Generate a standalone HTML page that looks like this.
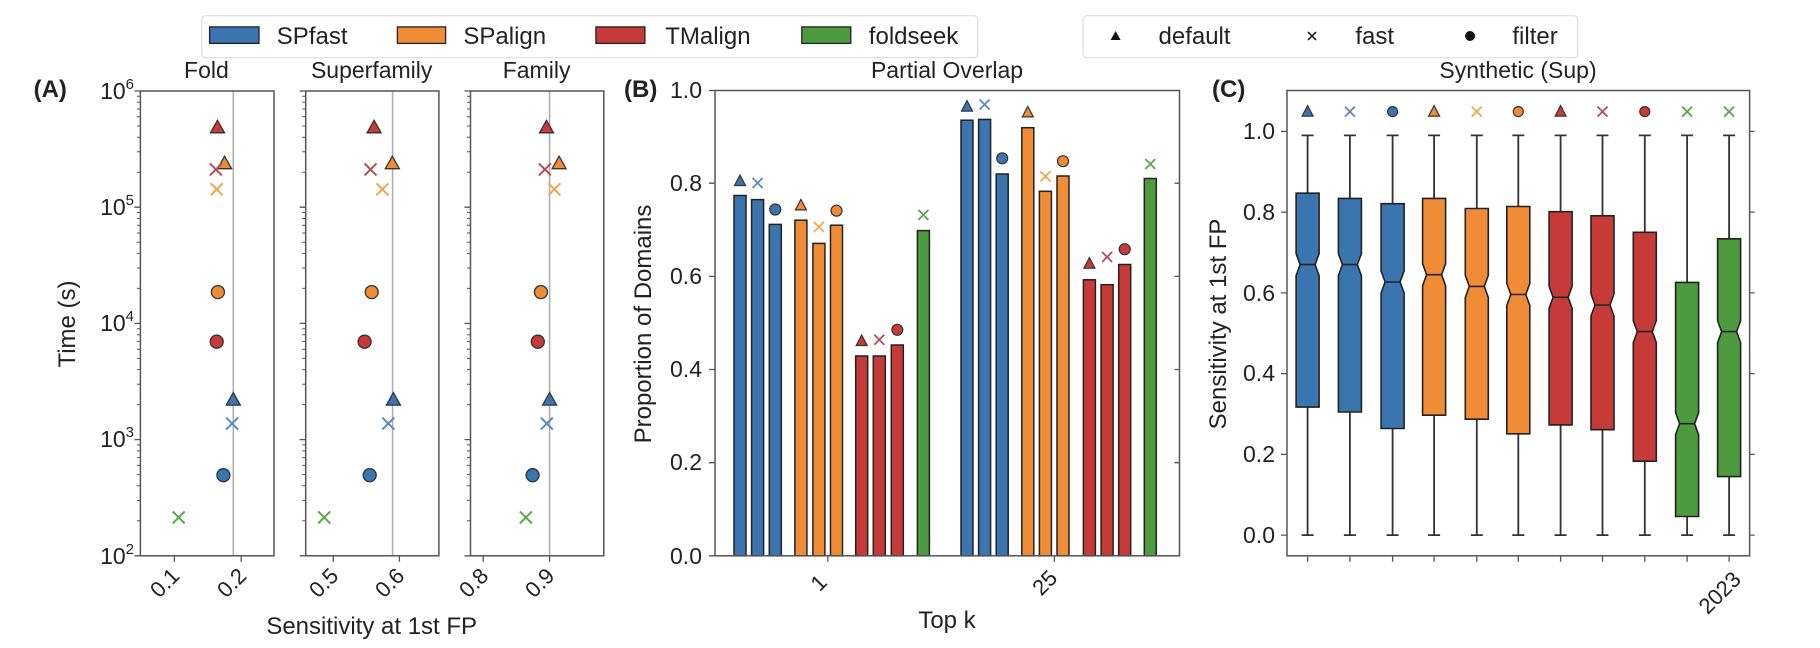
<!DOCTYPE html>
<html><head><meta charset="utf-8"><style>
html,body{margin:0;padding:0;background:#fff}
svg{display:block}
text{font-family:"Liberation Sans",sans-serif;fill:#222}
</style></head><body>
<svg width="1820" height="648" viewBox="0 0 1820 648" xmlns="http://www.w3.org/2000/svg">
<defs>
<path id="mt" d="M0,-35h-3.5M0,-55.4h-3.5M0,-70h-3.5M0,-81.2h-3.5M0,-90.4h-3.5M0,-98.2h-3.5M0,-104.9h-3.5M0,-110.9h-3.5" stroke="#555" stroke-width="1"/>
<polygon id="tri" points="-7,5.5 7,5.5 0,-7" stroke="#333" stroke-width="1.3"/>
<polygon id="tris" points="-5.5,4.5 5.5,4.5 0,-6" stroke="#333" stroke-width="1.2"/>
<path id="xm" d="M-6,-6L6,6M-6,6L6,-6" stroke-width="2" fill="none"/>
<path id="xs" d="M-5,-5L5,5M-5,5L5,-5" stroke-width="1.8" fill="none"/>
</defs>

<!-- Legend 1 -->
<rect x="201.7" y="15.7" width="776" height="42" rx="4" fill="#fff" stroke="#ddd" stroke-width="1.2"/>
<rect x="209.6" y="26.9" width="49.4" height="16.5" fill="#3b75af" stroke="#222" stroke-width="1.3"/>
<text x="276.8" y="44" font-size="24">SPfast</text>
<rect x="397.4" y="26.9" width="48.2" height="16.5" fill="#ef8c35" stroke="#222" stroke-width="1.3"/>
<text x="463.4" y="44" font-size="24">SPalign</text>
<rect x="595.9" y="26.9" width="49" height="16.5" fill="#c63b38" stroke="#222" stroke-width="1.3"/>
<text x="665.2" y="44" font-size="24">TMalign</text>
<rect x="801.8" y="26.9" width="49" height="16.5" fill="#4e9a3e" stroke="#222" stroke-width="1.3"/>
<text x="868.8" y="44" font-size="24">foldseek</text>
<!-- Legend 2 -->
<rect x="1083" y="15.7" width="494.6" height="42" rx="4" fill="#fff" stroke="#ddd" stroke-width="1.2"/>
<polygon points="1110.6,40 1120.6,40 1115.6,31" fill="#111"/>
<text x="1158.5" y="44" font-size="24">default</text>
<path d="M1308,32L1316,40M1308,40L1316,32" stroke="#111" stroke-width="1.5"/>
<text x="1355.4" y="44" font-size="24">fast</text>
<circle cx="1470" cy="36" r="5" fill="#111"/>
<text x="1512.4" y="44" font-size="24">filter</text>

<!-- ============ Panel A ============ -->
<text x="33.6" y="97" font-size="24" font-weight="bold">(A)</text>
<text x="206.4" y="78" font-size="23" text-anchor="middle">Fold</text>
<text x="371.7" y="78" font-size="23" text-anchor="middle">Superfamily</text>
<text x="536.6" y="78" font-size="23" text-anchor="middle">Family</text>
<g font-size="23" text-anchor="end">
<text x="134" y="99">10<tspan font-size="15" dy="-10">6</tspan></text>
<text x="134" y="215">10<tspan font-size="15" dy="-10">5</tspan></text>
<text x="134" y="331">10<tspan font-size="15" dy="-10">4</tspan></text>
<text x="134" y="447">10<tspan font-size="15" dy="-10">3</tspan></text>
<text x="134" y="564">10<tspan font-size="15" dy="-10">2</tspan></text>
</g>
<text transform="translate(75,324) rotate(-90)" font-size="24" text-anchor="middle">Time (s)</text>
<text x="371.7" y="634" font-size="24" text-anchor="middle">Sensitivity at 1st FP</text>

<line x1="233.3" y1="91" x2="233.3" y2="555.8" stroke="#b0b0b0" stroke-width="1.6"/>
<line x1="392.6" y1="91" x2="392.6" y2="555.8" stroke="#b0b0b0" stroke-width="1.6"/>
<line x1="549.6" y1="91" x2="549.6" y2="555.8" stroke="#b0b0b0" stroke-width="1.6"/>

<g fill="none" stroke="#555" stroke-width="1.5">
<rect x="140.4" y="91" width="133.6" height="464.8"/>
<rect x="305.7" y="91" width="133.2" height="464.8"/>
<rect x="470.5" y="91" width="133.3" height="464.8"/>
</g>
<g stroke="#555" stroke-width="1.3">
<path d="M140.4,91h-6M140.4,207.2h-6M140.4,323.4h-6M140.4,439.6h-6M140.4,555.8h-6"/>
<path d="M305.7,91h-6M305.7,207.2h-6M305.7,323.4h-6M305.7,439.6h-6M305.7,555.8h-6"/>
<path d="M470.5,91h-6M470.5,207.2h-6M470.5,323.4h-6M470.5,439.6h-6M470.5,555.8h-6"/>
<path d="M174.4,555.8v6M241.2,555.8v6M333.3,555.8v6M399.4,555.8v6M483.2,555.8v6M549.6,555.8v6"/>
</g>
<use href="#mt" x="140.4" y="555.8"/><use href="#mt" x="140.4" y="439.6"/><use href="#mt" x="140.4" y="323.4"/><use href="#mt" x="140.4" y="207.2"/>
<use href="#mt" x="305.7" y="555.8"/><use href="#mt" x="305.7" y="439.6"/><use href="#mt" x="305.7" y="323.4"/><use href="#mt" x="305.7" y="207.2"/>
<use href="#mt" x="470.5" y="555.8"/><use href="#mt" x="470.5" y="439.6"/><use href="#mt" x="470.5" y="323.4"/><use href="#mt" x="470.5" y="207.2"/>
<g font-size="22" text-anchor="middle">
<text transform="translate(170,588) rotate(-45)">0.1</text>
<text transform="translate(237,588) rotate(-45)">0.2</text>
<text transform="translate(329,588) rotate(-45)">0.5</text>
<text transform="translate(395,588) rotate(-45)">0.6</text>
<text transform="translate(479,588) rotate(-45)">0.8</text>
<text transform="translate(545,588) rotate(-45)">0.9</text>
</g>

<use href="#tri" x="217.5" y="127.3" fill="#c63b38"/>
<use href="#tri" x="224.6" y="163.2" fill="#ef8c35"/>
<use href="#xm" x="215.9" y="169.4" stroke="#b54a5a"/>
<use href="#xm" x="216.7" y="189.3" stroke="#efa64e"/>
<circle cx="217.9" cy="292.1" r="6.5" fill="#ef8c35" stroke="#333" stroke-width="1.3"/>
<circle cx="216.7" cy="341.7" r="6.5" fill="#c63b38" stroke="#333" stroke-width="1.3"/>
<use href="#tri" x="233.3" y="399.6" fill="#3b75af"/>
<use href="#xm" x="232.1" y="423.6" stroke="#5a8ab8"/>
<circle cx="223.4" cy="475.2" r="6.5" fill="#3b75af" stroke="#333" stroke-width="1.3"/>
<use href="#xm" x="178.7" y="517.4" stroke="#5aa64a"/>
<use href="#tri" x="374.1" y="127.3" fill="#c63b38"/>
<use href="#tri" x="392.3" y="163.2" fill="#ef8c35"/>
<use href="#xm" x="370.5" y="169.4" stroke="#b54a5a"/>
<use href="#xm" x="382.4" y="189.3" stroke="#efa64e"/>
<circle cx="371.7" cy="292.1" r="6.5" fill="#ef8c35" stroke="#333" stroke-width="1.3"/>
<circle cx="364.6" cy="341.7" r="6.5" fill="#c63b38" stroke="#333" stroke-width="1.3"/>
<use href="#tri" x="393.4" y="399.6" fill="#3b75af"/>
<use href="#xm" x="388.3" y="423.6" stroke="#5a8ab8"/>
<circle cx="369.7" cy="475.2" r="6.5" fill="#3b75af" stroke="#333" stroke-width="1.3"/>
<use href="#xm" x="324.2" y="517.4" stroke="#5aa64a"/>
<use href="#tri" x="546.5" y="127.3" fill="#c63b38"/>
<use href="#tri" x="559.1" y="163.2" fill="#ef8c35"/>
<use href="#xm" x="544.9" y="169.4" stroke="#b54a5a"/>
<use href="#xm" x="554.4" y="189.3" stroke="#efa64e"/>
<circle cx="540.9" cy="292.1" r="6.5" fill="#ef8c35" stroke="#333" stroke-width="1.3"/>
<circle cx="537.8" cy="341.7" r="6.5" fill="#c63b38" stroke="#333" stroke-width="1.3"/>
<use href="#tri" x="549.6" y="399.6" fill="#3b75af"/>
<use href="#xm" x="546.8" y="423.6" stroke="#5a8ab8"/>
<circle cx="532.6" cy="475.2" r="6.5" fill="#3b75af" stroke="#333" stroke-width="1.3"/>
<use href="#xm" x="525.9" y="517.4" stroke="#5aa64a"/>

<!-- ============ Panel B ============ -->
<text x="624" y="97" font-size="24" font-weight="bold">(B)</text>
<text x="947" y="78" font-size="23" text-anchor="middle">Partial Overlap</text>
<g font-size="23" text-anchor="end">
<text x="702" y="98">1.0</text>
<text x="702" y="191">0.8</text>
<text x="702" y="284">0.6</text>
<text x="702" y="377">0.4</text>
<text x="702" y="470">0.2</text>
<text x="702" y="564">0.0</text>
</g>
<text transform="translate(651,324) rotate(-90)" font-size="24" text-anchor="middle">Proportion of Domains</text>
<text x="947" y="628" font-size="24" text-anchor="middle">Top k</text>
<g font-size="22" text-anchor="middle">
<text transform="translate(824,588) rotate(-45)">1</text>
<text transform="translate(1050,588) rotate(-45)">25</text>
</g>
<g stroke="#222" stroke-width="1.5">
<rect x="734" y="195.5" width="12" height="360.3" fill="#3b75af"/>
<rect x="751.6" y="199.6" width="12" height="356.2" fill="#3b75af"/>
<rect x="769.3" y="224.4" width="12" height="331.4" fill="#3b75af"/>
<rect x="794.9" y="220.2" width="12" height="335.6" fill="#ef8c35"/>
<rect x="812.9" y="243.4" width="12" height="312.4" fill="#ef8c35"/>
<rect x="830.5" y="225.2" width="12" height="330.6" fill="#ef8c35"/>
<rect x="855.7" y="356" width="12" height="199.8" fill="#c63b38"/>
<rect x="873.3" y="356" width="12" height="199.8" fill="#c63b38"/>
<rect x="891.3" y="345" width="12" height="210.8" fill="#c63b38"/>
<rect x="917.4" y="230.6" width="12" height="325.2" fill="#4e9a3e"/>
<rect x="961" y="120.2" width="12" height="435.6" fill="#3b75af"/>
<rect x="978.6" y="119.4" width="12" height="436.4" fill="#3b75af"/>
<rect x="996.2" y="174" width="12" height="381.8" fill="#3b75af"/>
<rect x="1021.8" y="127.7" width="12" height="428.1" fill="#ef8c35"/>
<rect x="1039.4" y="191.3" width="12" height="364.5" fill="#ef8c35"/>
<rect x="1057" y="176" width="12" height="379.8" fill="#ef8c35"/>
<rect x="1083.4" y="279.8" width="12" height="276" fill="#c63b38"/>
<rect x="1101.1" y="284.7" width="12" height="271.1" fill="#c63b38"/>
<rect x="1118.7" y="264.5" width="12" height="291.3" fill="#c63b38"/>
<rect x="1144.3" y="178.5" width="12" height="377.3" fill="#4e9a3e"/>
</g>
<use href="#tris" x="740" y="181" fill="#3b75af"/>
<use href="#xs" x="757.6" y="183" stroke="#5a8ab8"/>
<circle cx="775.3" cy="209.5" r="5.5" fill="#3b75af" stroke="#333" stroke-width="1.2"/>
<use href="#tris" x="800.9" y="205.4" fill="#ef8c35"/>
<use href="#xs" x="818.9" y="226.9" stroke="#efa64e"/>
<circle cx="836.5" cy="210.7" r="5.5" fill="#ef8c35" stroke="#333" stroke-width="1.2"/>
<use href="#tris" x="861.7" y="341" fill="#c63b38"/>
<use href="#xs" x="879.3" y="339.7" stroke="#b54a5a"/>
<circle cx="897.3" cy="329.8" r="5.5" fill="#c63b38" stroke="#333" stroke-width="1.2"/>
<use href="#xs" x="923.4" y="214.9" stroke="#5aa64a"/>
<use href="#tris" x="967" y="106.6" fill="#3b75af"/>
<use href="#xs" x="984.6" y="104.5" stroke="#5a8ab8"/>
<circle cx="1002.2" cy="158.3" r="5.5" fill="#3b75af" stroke="#333" stroke-width="1.2"/>
<use href="#tris" x="1027.8" y="112.4" fill="#ef8c35"/>
<use href="#xs" x="1045.4" y="176.4" stroke="#efa64e"/>
<circle cx="1063" cy="161.2" r="5.5" fill="#ef8c35" stroke="#333" stroke-width="1.2"/>
<use href="#tris" x="1089.4" y="263.6" fill="#c63b38"/>
<use href="#xs" x="1107.1" y="257" stroke="#b54a5a"/>
<circle cx="1124.7" cy="249.2" r="5.5" fill="#c63b38" stroke="#333" stroke-width="1.2"/>
<use href="#xs" x="1150.3" y="164" stroke="#5aa64a"/>
<rect x="715" y="90.5" width="464.5" height="465.3" fill="none" stroke="#555" stroke-width="1.5"/>
<path d="M715,90.5h-6M715,183.2h-6M715,276.4h-6M715,369.5h-6M715,462.7h-6M715,555.8h-6M827.8,555.8v6M1054.4,555.8v6M1179.5,183.2h-5M1179.5,276.4h-5M1179.5,369.5h-5M1179.5,462.7h-5" stroke="#555" stroke-width="1.3"/>

<!-- ============ Panel C ============ -->
<text x="1212" y="97" font-size="24" font-weight="bold">(C)</text>
<text x="1518" y="78" font-size="23" text-anchor="middle">Synthetic (Sup)</text>
<g font-size="23" text-anchor="end">
<text x="1275" y="139">1.0</text>
<text x="1275" y="220">0.8</text>
<text x="1275" y="301">0.6</text>
<text x="1275" y="381">0.4</text>
<text x="1275" y="462">0.2</text>
<text x="1275" y="543">0.0</text>
</g>
<text transform="translate(1226,324) rotate(-90)" font-size="24" text-anchor="middle">Sensitivity at 1st FP</text>
<text transform="translate(1725,598) rotate(-45)" font-size="22" text-anchor="middle">2023</text>

<g stroke="#333" stroke-width="1.8">
<path d="M1307.6,135.4V193.2M1307.6,407.1V535.1M1301.6,135.4h12M1301.6,535.1h12"/>
<path d="M1349.9,135.4V198.4M1349.9,412V535.1M1343.9,135.4h12M1343.9,535.1h12"/>
<path d="M1392.6,135.4V203.7M1392.6,428.5V535.1M1386.6,135.4h12M1386.6,535.1h12"/>
<path d="M1434.1,135.4V198.4M1434.1,415.2V535.1M1428.1,135.4h12M1428.1,535.1h12"/>
<path d="M1476.8,135.4V208.5M1476.8,419.2V535.1M1470.8,135.4h12M1470.8,535.1h12"/>
<path d="M1518.3,135.4V206.5M1518.3,433.8V535.1M1512.3,135.4h12M1512.3,535.1h12"/>
<path d="M1560.6,135.4V211.7M1560.6,424.9V535.1M1554.6,135.4h12M1554.6,535.1h12"/>
<path d="M1602.5,135.4V215.8M1602.5,429.7V535.1M1596.5,135.4h12M1596.5,535.1h12"/>
<path d="M1644.8,135.4V232.3M1644.8,461.2V535.1M1638.8,135.4h12M1638.8,535.1h12"/>
<path d="M1687.1,135.4V282.4M1687.1,516.5V535.1M1681.1,135.4h12M1681.1,535.1h12"/>
<path d="M1729.1,135.4V238.8M1729.1,476.6V535.1M1723.1,135.4h12M1723.1,535.1h12"/>
</g>
<g stroke="#222" stroke-width="1.6">
<path transform="translate(1307.6,0)" fill="#3b75af" d="M-11.5,193.2H11.5V253.6L7.5,264.6L11.5,275.6V407.1H-11.5V275.6L-7.5,264.6L-11.5,253.6Z M-7.5,264.6H7.5"/>
<path transform="translate(1349.9,0)" fill="#3b75af" d="M-11.5,198.4H11.5V253.6L7.5,264.6L11.5,275.6V412H-11.5V275.6L-7.5,264.6L-11.5,253.6Z M-7.5,264.6H7.5"/>
<path transform="translate(1392.6,0)" fill="#3b75af" d="M-11.5,203.7H11.5V271L7.5,282L11.5,293V428.5H-11.5V293L-7.5,282L-11.5,271Z M-7.5,282H7.5"/>
<path transform="translate(1434.1,0)" fill="#ef8c35" d="M-11.5,198.4H11.5V263.7L7.5,274.7L11.5,285.7V415.2H-11.5V285.7L-7.5,274.7L-11.5,263.7Z M-7.5,274.7H7.5"/>
<path transform="translate(1476.8,0)" fill="#ef8c35" d="M-11.5,208.5H11.5V275.4L7.5,286.4L11.5,297.4V419.2H-11.5V297.4L-7.5,286.4L-11.5,275.4Z M-7.5,286.4H7.5"/>
<path transform="translate(1518.3,0)" fill="#ef8c35" d="M-11.5,206.5H11.5V283.5L7.5,294.5L11.5,305.5V433.8H-11.5V305.5L-7.5,294.5L-11.5,283.5Z M-7.5,294.5H7.5"/>
<path transform="translate(1560.6,0)" fill="#c63b38" d="M-11.5,211.7H11.5V286.3L7.5,297.3L11.5,308.3V424.9H-11.5V308.3L-7.5,297.3L-11.5,286.3Z M-7.5,297.3H7.5"/>
<path transform="translate(1602.5,0)" fill="#c63b38" d="M-11.5,215.8H11.5V294L7.5,305L11.5,316V429.7H-11.5V316L-7.5,305L-11.5,294Z M-7.5,305H7.5"/>
<path transform="translate(1644.8,0)" fill="#c63b38" d="M-11.5,232.3H11.5V320.6L7.5,331.6L11.5,342.6V461.2H-11.5V342.6L-7.5,331.6L-11.5,320.6Z M-7.5,331.6H7.5"/>
<path transform="translate(1687.1,0)" fill="#4e9a3e" d="M-11.5,282.4H11.5V412.7L7.5,423.7L11.5,434.7V516.5H-11.5V434.7L-7.5,423.7L-11.5,412.7Z M-7.5,423.7H7.5"/>
<path transform="translate(1729.1,0)" fill="#4e9a3e" d="M-11.5,238.8H11.5V320.6L7.5,331.6L11.5,342.6V476.6H-11.5V342.6L-7.5,331.6L-11.5,320.6Z M-7.5,331.6H7.5"/>
</g>
<use href="#tris" x="1307.6" y="111.6" fill="#3b75af"/>
<use href="#xs" x="1349.9" y="111.6" stroke="#5a8ab8"/>
<circle cx="1392.6" cy="111.6" r="5" fill="#3b75af" stroke="#333" stroke-width="1.2"/>
<use href="#tris" x="1434.1" y="111.6" fill="#ef8c35"/>
<use href="#xs" x="1476.8" y="111.6" stroke="#efa64e"/>
<circle cx="1518.3" cy="111.6" r="5" fill="#ef8c35" stroke="#333" stroke-width="1.2"/>
<use href="#tris" x="1560.6" y="111.6" fill="#c63b38"/>
<use href="#xs" x="1602.5" y="111.6" stroke="#b54a5a"/>
<circle cx="1644.8" cy="111.6" r="5" fill="#c63b38" stroke="#333" stroke-width="1.2"/>
<use href="#xs" x="1687.1" y="111.6" stroke="#5aa64a"/>
<use href="#xs" x="1729.1" y="111.6" stroke="#5aa64a"/>
<rect x="1287" y="90.5" width="462.6" height="465.3" fill="none" stroke="#555" stroke-width="1.5"/>
<path d="M1287,131.4h-6M1287,212.1h-6M1287,292.9h-6M1287,373.6h-6M1287,454.4h-6M1287,535.1h-6M1749.6,131.4h5M1749.6,212.1h5M1749.6,292.9h5M1749.6,373.6h5M1749.6,454.4h5M1749.6,535.1h5M1307.6,555.8v6M1349.9,555.8v6M1392.6,555.8v6M1434.1,555.8v6M1476.8,555.8v6M1518.3,555.8v6M1560.6,555.8v6M1602.5,555.8v6M1644.8,555.8v6M1687.1,555.8v6M1729.1,555.8v6" stroke="#555" stroke-width="1.3"/>
</svg>
</body></html>
